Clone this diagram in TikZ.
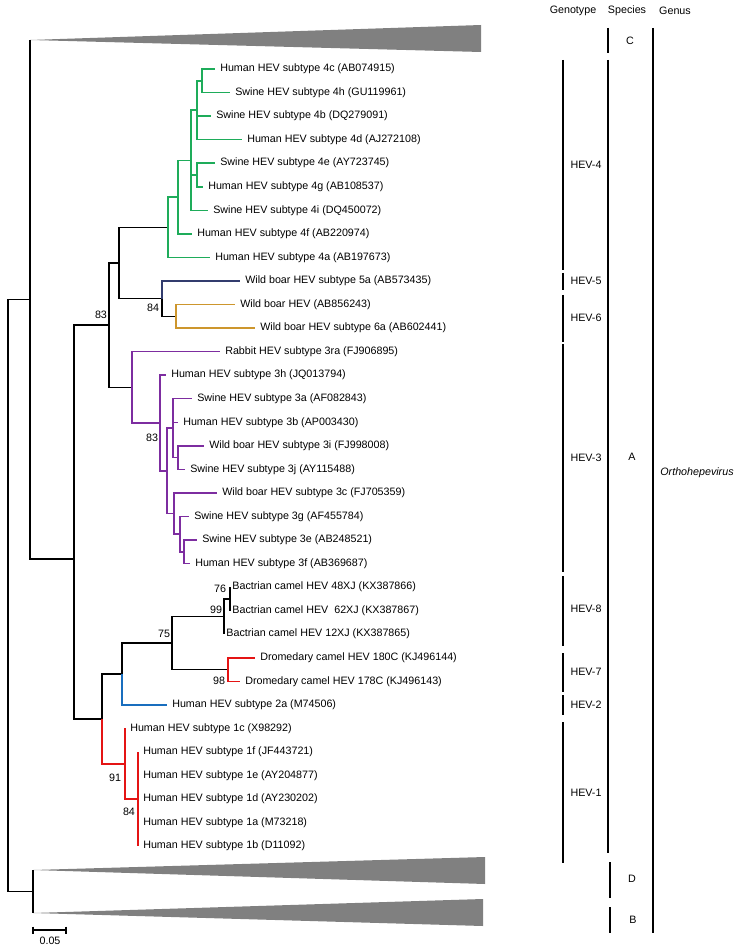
\documentclass[tikz,border=0pt]{standalone}
\usepackage{fontspec}
\setmainfont{Liberation Sans}
\usepackage{xcolor}
\definecolor{hevgreen}{RGB}{30, 172, 90}
\definecolor{hevnavy}{RGB}{50, 60, 110}
\definecolor{hevgold}{RGB}{205, 150, 45}
\definecolor{hevpurple}{RGB}{125, 45, 160}
\definecolor{hevred}{RGB}{228, 20, 20}
\definecolor{hevblue}{RGB}{25, 110, 190}
\definecolor{hevgray}{RGB}{128, 128, 128}

\begin{document}
\begin{tikzpicture}[x=0.02cm, y=-0.02cm,
    branch/.style={line width=0.85pt},
    taxon/.style={anchor=west, inner xsep=2.8pt, inner ysep=0pt,
        font=\fontsize{6.1}{7}\selectfont},
    boot/.style={inner sep=0pt, font=\fontsize{6.1}{7}\selectfont},
    bar/.style={line width=0.9pt},
    grp/.style={inner sep=0pt, font=\fontsize{6.1}{7}\selectfont}]

\useasboundingbox (0,0) rectangle (740,949);

% === Nodos internos ===
\coordinate (root) at (8, 595.5);
\coordinate (s0) at (30, 299.5);
\coordinate (d0) at (33, 891.5);
\coordinate (a0) at (74, 559);
\coordinate (b0) at (109, 325.1);
\coordinate (b1) at (119, 263.0);
\coordinate (n56) at (162, 298.6);
\coordinate (n6) at (176, 316.3);
% genotipo 4
\coordinate (g0) at (168, 227.3);
\coordinate (g1) at (178, 197.1);
\coordinate (g2) at (191, 160.3);
\coordinate (g3) at (197, 110.2);
\coordinate (g4) at (202, 80.8);
\coordinate (g5) at (197, 175.0);
% genotipo 3
\coordinate (p0) at (132, 387.3);
\coordinate (p1) at (160, 423.0);
\coordinate (p2) at (167, 470.8);
\coordinate (p3) at (173, 428.2);
\coordinate (p4) at (178, 457.6);
\coordinate (p5) at (174, 513.5);
\coordinate (p6) at (180, 534.2);
\coordinate (p7) at (184, 551.8);
% camellos, genotipos 1 y 2
\coordinate (r2) at (102, 718.9);
\coordinate (c5) at (122, 674.0);
\coordinate (c3) at (172, 643.1);
\coordinate (c2) at (224, 616.6);
\coordinate (c1) at (230, 598.9);
\coordinate (c4) at (228, 669.6);
\coordinate (h1) at (125, 763.8);
\coordinate (h2) at (138, 799.1);

% === Puntas de las ramas ===
\coordinate (tc) at (30, 40);
\coordinate (td) at (33, 870);
\coordinate (tb) at (33, 913);
\coordinate (t4c) at (215, 69.0);
\coordinate (t4h) at (230, 92.6);
\coordinate (t4b) at (211, 116.1);
\coordinate (t4d) at (242, 139.7);
\coordinate (t4e) at (215, 163.2);
\coordinate (t4g) at (203, 186.8);
\coordinate (t4i) at (208, 210.3);
\coordinate (t4f) at (192, 233.9);
\coordinate (t4a) at (210, 257.4);
\coordinate (t5a) at (240, 281.0);
\coordinate (tab) at (235, 304.5);
\coordinate (t6a) at (255, 328.1);
\coordinate (t3ra) at (220, 351.6);
\coordinate (t3h) at (166, 375.2);
\coordinate (t3a) at (192, 398.7);
\coordinate (t3b) at (178, 422.3);
\coordinate (t3i) at (204, 445.8);
\coordinate (t3j) at (185, 469.4);
\coordinate (t3c) at (217, 492.9);
\coordinate (t3g) at (189, 516.5);
\coordinate (t3e) at (197, 540.0);
\coordinate (t3f) at (190, 563.6);
\coordinate (t48) at (230, 587.1);
\coordinate (t62) at (230, 610.7);
\coordinate (t12) at (224, 634.2);
\coordinate (t180) at (255, 657.8);
\coordinate (t178) at (240, 681.3);
\coordinate (t2a) at (167, 704.9);
\coordinate (t1c) at (125, 728.4);
\coordinate (t1f) at (138, 752.0);
\coordinate (t1e) at (138, 775.5);
\coordinate (t1d) at (138, 799.1);
\coordinate (t1a) at (138, 822.6);
\coordinate (t1b) at (138, 846.2);

% === Clados colapsados (C, D, B) ===
\fill[hevgray] (tc) -- (481, 25) -- (481, 52) -- cycle;
\fill[hevgray] (td) -- (485, 857) -- (485, 884) -- cycle;
\fill[hevgray] (tb) -- (483, 899) -- (483, 926) -- cycle;

% === Ramas negras ===
\draw[branch] (root) |- (s0) (root) |- (d0)
    (s0) |- (tc) (s0) |- (a0) (d0) |- (td) (d0) |- (tb)
    (a0) |- (b0) (a0) |- (r2)
    (b0) |- (b1) (b0) |- (p0) (b1) |- (g0) (b1) |- (n56) (n56) |- (n6)
    (r2) |- (c5) (c5) |- (c3) (c3) |- (c2) (c3) |- (c4)
    (c2) |- (c1) (c2) |- (t12);
\draw[line width=1.3pt] (c1) |- (t48) (c1) |- (t62);

% === Ramas de color ===
\draw[branch, hevgreen] (g0) |- (g1) (g0) |- (t4a) (g1) |- (g2) (g1) |- (t4f)
    (g2) |- (g3) (g2) |- (g5) (g2) |- (t4i)
    (g3) |- (g4) (g3) |- (t4b) (g3) |- (t4d)
    (g4) |- (t4c) (g4) |- (t4h) (g5) |- (t4e) (g5) |- (t4g);
\draw[branch, hevnavy] (n56) |- (t5a);
\draw[branch, hevgold] (n6) |- (tab) (n6) |- (t6a);
\draw[branch, hevpurple] (p0) |- (t3ra) (p0) |- (p1) (p1) |- (t3h) (p1) |- (p2)
    (p2) |- (p3) (p2) |- (p5)
    (p3) |- (t3a) (p3) |- (t3b) (p3) |- (p4) (p4) |- (t3i) (p4) |- (t3j)
    (p5) |- (t3c) (p5) |- (p6) (p6) |- (t3g) (p6) |- (p7)
    (p7) |- (t3e) (p7) |- (t3f);
\draw[branch, hevred] (c4) |- (t180) (c4) |- (t178)
    (r2) |- (h1) (h1) |- (t1c) (h1) |- (h2)
    (h2) |- (t1f) (h2) |- (t1e) (h2) |- (t1d) (h2) |- (t1a) (h2) |- (t1b);
\draw[branch, hevblue] (c5) |- (t2a);

% === Nombres de las secuencias ===
\node[taxon] (l4c) at (t4c) {Human HEV subtype 4c (AB074915)};
\node[taxon] (l4h) at (t4h) {Swine HEV subtype 4h (GU119961)};
\node[taxon] (l4b) at (t4b) {Swine HEV subtype 4b (DQ279091)};
\node[taxon] (l4d) at (t4d) {Human HEV subtype 4d (AJ272108)};
\node[taxon] (l4e) at (t4e) {Swine HEV subtype 4e (AY723745)};
\node[taxon] (l4g) at (t4g) {Human HEV subtype 4g (AB108537)};
\node[taxon] (l4i) at (t4i) {Swine HEV subtype 4i (DQ450072)};
\node[taxon] (l4f) at (t4f) {Human HEV subtype 4f (AB220974)};
\node[taxon] (l4a) at (t4a) {Human HEV subtype 4a (AB197673)};
\node[taxon] (l5a) at (t5a) {Wild boar HEV subtype 5a (AB573435)};
\node[taxon] (lab) at (tab) {Wild boar HEV (AB856243)};
\node[taxon] (l6a) at (t6a) {Wild boar HEV subtype 6a (AB602441)};
\node[taxon] (l3ra) at (t3ra) {Rabbit HEV subtype 3ra (FJ906895)};
\node[taxon] (l3h) at (t3h) {Human HEV subtype 3h (JQ013794)};
\node[taxon] (l3a) at (t3a) {Swine HEV subtype 3a (AF082843)};
\node[taxon] (l3b) at (t3b) {Human HEV subtype 3b (AP003430)};
\node[taxon] (l3i) at (t3i) {Wild boar HEV subtype 3i (FJ998008)};
\node[taxon] (l3j) at (t3j) {Swine HEV subtype 3j (AY115488)};
\node[taxon] (l3c) at (t3c) {Wild boar HEV subtype 3c (FJ705359)};
\node[taxon] (l3g) at (t3g) {Swine HEV subtype 3g (AF455784)};
\node[taxon] (l3e) at (t3e) {Swine HEV subtype 3e (AB248521)};
\node[taxon] (l3f) at (t3f) {Human HEV subtype 3f (AB369687)};
\node[taxon, xshift=-1.6pt] (l48) at (t48) {Bactrian camel HEV 48XJ (KX387866)};
\node[taxon, xshift=-1.6pt] (l62) at (t62) {Bactrian camel HEV\ \ 62XJ (KX387867)};
\node[taxon, xshift=-1.6pt] (l12) at (t12) {Bactrian camel HEV 12XJ (KX387865)};
\node[taxon] (l180) at (t180) {Dromedary camel HEV 180C (KJ496144)};
\node[taxon] (l178) at (t178) {Dromedary camel HEV 178C (KJ496143)};
\node[taxon] (l2a) at (t2a) {Human HEV subtype 2a (M74506)};
\node[taxon] (l1c) at (t1c) {Human HEV subtype 1c (X98292)};
\node[taxon] (l1f) at (t1f) {Human HEV subtype 1f (JF443721)};
\node[taxon] (l1e) at (t1e) {Human HEV subtype 1e (AY204877)};
\node[taxon] (l1d) at (t1d) {Human HEV subtype 1d (AY230202)};
\node[taxon] (l1a) at (t1a) {Human HEV subtype 1a (M73218)};
\node[taxon] (l1b) at (t1b) {Human HEV subtype 1b (D11092)};

% === Valores de bootstrap ===
\node[boot] (bs1) at (101, 315) {83};
\node[boot] (bs2) at (153, 308) {84};
\node[boot] (bs3) at (152, 438) {83};
\node[boot] (bs4) at (220, 589) {76};
\node[boot] (bs5) at (216, 610) {99};
\node[boot] (bs6) at (164, 634) {75};
\node[boot] (bs7) at (219, 681) {98};
\node[boot] (bs8) at (115, 778) {91};
\node[boot] (bs9) at (129, 812) {84};

% === Barra de escala ===
\draw[branch] (33, 930) -- (66, 930);
\draw[branch] (33, 926.5) -- (33, 933.5);
\draw[branch] (66, 926.5) -- (66, 933.5);
\node[boot] (scale) at (50, 941) {0.05};

% === Genotipo, especie y genero ===
\node[grp] (hgen) at (573, 11) {Genotype};
\node[grp] (hsp) at (627, 11) {Species};
\node[grp] (hgs) at (675, 11) {Genus};

\draw[bar] (563, 60) -- (563, 270);
\draw[bar] (563, 273) -- (563, 290);
\draw[bar] (563, 295) -- (563, 342);
\draw[bar] (563, 344) -- (563, 572);
\draw[bar] (563, 576) -- (563, 646);
\draw[bar] (563, 653) -- (563, 692);
\draw[bar] (563, 695) -- (563, 715);
\draw[bar] (563, 722) -- (563, 863);
\node[grp] (hev4) at (586, 165) {HEV-4};
\node[grp] (hev5) at (586, 281) {HEV-5};
\node[grp] (hev6) at (586, 318) {HEV-6};
\node[grp] (hev3) at (586, 458) {HEV-3};
\node[grp] (hev8) at (586, 609) {HEV-8};
\node[grp] (hev7) at (586, 672) {HEV-7};
\node[grp] (hev2) at (586, 705) {HEV-2};
\node[grp] (hev1) at (586, 793) {HEV-1};

\draw[bar] (608, 28) -- (608, 53);
\draw[bar] (608, 60) -- (608, 853);
\draw[bar] (610, 862) -- (610, 898);
\draw[bar] (610, 907) -- (610, 933);
\node[grp] (spc) at (630, 41) {C};
\node[grp] (spa) at (632, 457) {A};
\node[grp] (spd) at (632, 879) {D};
\node[grp] (spb) at (633, 920) {B};

\draw[bar] (653, 28) -- (653, 933);
\node[grp, anchor=west] (ortho) at (660, 473) {\itshape Orthohepevirus};

\end{tikzpicture}
\end{document}
